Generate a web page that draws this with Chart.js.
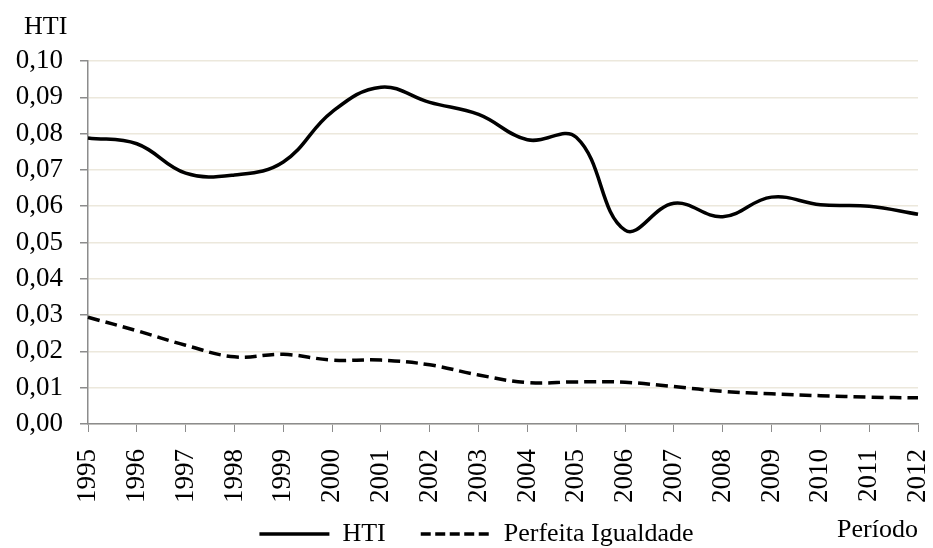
<!DOCTYPE html>
<html>
<head>
<meta charset="utf-8">
<script src="https://cdn.jsdelivr.net/npm/chart.js@4"></script>
<style>
  html, body { margin: 0; padding: 0; background: #fff; overflow: hidden; }
  #wrap { position: relative; width: 933px; height: 557px; }
  canvas { display: block; }
  .lbl { position: absolute; font-family: "Liberation Serif", "Times New Roman", serif; font-size: 26px; line-height: 1; color: #000; white-space: nowrap; }
</style>
</head>
<body>
<div id="wrap">
  <canvas id="c" width="933" height="557"></canvas>
  <div class="lbl" id="ytitle" style="left:24px; top:13px;">HTI</div>
  <div class="lbl" id="xtitle" style="left:837px; top:516px;">Período</div>
</div>
<script>
const categories = ['1995','1996','1997','1998','1999','2000','2001','2002','2003','2004','2005','2006','2007','2008','2009','2010','2011','2012'];
const htiValues = [0.0788, 0.0772, 0.0691, 0.0686, 0.0722, 0.0860, 0.0928, 0.0886, 0.0853, 0.0783, 0.0790, 0.0534, 0.0608, 0.0571, 0.0625, 0.0604, 0.0600, 0.0578];
const igualdadeValues = [0.0294, 0.0257, 0.0217, 0.0185, 0.0192, 0.0176, 0.0176, 0.0163, 0.0135, 0.0114, 0.0116, 0.0115, 0.0103, 0.0090, 0.0083, 0.0078, 0.0074, 0.0072];
const seriesNames = ['HTI', 'Perfeita Igualdade'];
const yTickLabels = ['0,00','0,01','0,02','0,03','0,04','0,05','0,06','0,07','0,08','0,09','0,10'];

const FONT = '"Liberation Serif", "Times New Roman", serif';
const AXIS = '#8c8c8c';
const GRID = '#ece8dc';

const layoutTweak = {
  id: 'layoutTweak',
  afterLayout(chart) {
    const x = chart.scales.x;
    x.bottom = x.top + 95;            // let rotated year labels show fully
    const lg = chart.legend;
    if (lg) { lg.left += 10; lg.right += 10; }
  }
};

new Chart(document.getElementById('c'), {
  type: 'line',
  data: {
    labels: categories,
    datasets: [
      { label: seriesNames[0], data: htiValues, borderColor: '#000', backgroundColor: '#000', borderWidth: 3.5, pointRadius: 0, tension: 0.4, fill: false },
      { label: seriesNames[1], data: igualdadeValues, borderColor: '#000', backgroundColor: '#000', borderWidth: 3.5, borderDash: [12, 6], pointRadius: 0, tension: 0.4, fill: false }
    ]
  },
  plugins: [layoutTweak],
  options: {
    responsive: false,
    animation: false,
    events: [],
    layout: { padding: { left: 0, right: 0, top: 61, bottom: 0 } },
    plugins: {
      tooltip: { enabled: false },
      legend: {
        position: 'bottom',
        labels: {
          font: { family: FONT, size: 26 },
          color: '#000',
          usePointStyle: true,
          pointStyle: 'line',
          pointStyleWidth: 70,
          padding: 35,
          generateLabels(chart) {
            const items = Chart.defaults.plugins.legend.labels.generateLabels(chart);
            items.forEach((it, i) => {
              it.pointStyle = 'line';
              it.lineWidth = 3.5;
              it.lineDash = i === 1 ? [10, 4.5] : [];
              it.strokeStyle = '#000';
            });
            return items;
          }
        }
      }
    },
    scales: {
      x: {
        grid: { drawOnChartArea: false, drawTicks: true, tickLength: 8, tickColor: AXIS, offset: false },
        border: { color: AXIS, width: 1.5 },
        offset: false,
        ticks: { font: { family: FONT, size: 27 }, color: '#000', minRotation: 90, maxRotation: 90, autoSkip: false, padding: 17 },
        afterFit(scale) { scale.height = 62; scale.paddingRight = 15; }
      },
      y: {
        min: 0, max: 0.1,
        grid: { color: GRID, lineWidth: 1.5, tickLength: 8, tickColor: AXIS },
        border: { color: AXIS, width: 1.5 },
        ticks: {
          stepSize: 0.01,
          font: { family: FONT, size: 27 },
          color: '#000',
          padding: 17,
          callback: (v, i) => yTickLabels[i]
        },
        afterFit(scale) { scale.width = 88; }
      }
    }
  }
});
</script>
</body>
</html>
